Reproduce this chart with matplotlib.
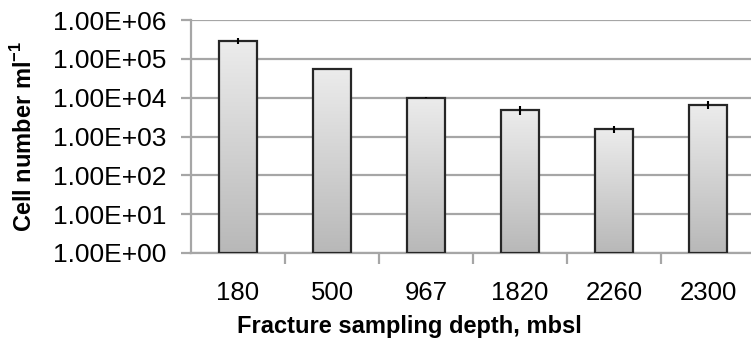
import numpy as np
import matplotlib.pyplot as plt
from matplotlib.ticker import FixedLocator, FuncFormatter

plt.rcParams['font.family'] = ['Liberation Sans', 'DejaVu Sans']
plt.rcParams['mathtext.fontset'] = 'custom'
plt.rcParams['mathtext.rm'] = 'Liberation Sans'
plt.rcParams['mathtext.bf'] = 'Liberation Sans:bold'

# depth of each fracture (mbsl) and cell counts per ml
depths = ['180', '500', '967', '1820', '2260', '2300']
cells = [2.9e5, 5.6e4, 1.0e4, 4.8e3, 1.55e3, 6.6e3]
cells_err = [5.5e4, 0, 3e2, 1.2e3, 3.5e2, 1.6e3]

GRID = '#a6a6a6'

fig = plt.figure(figsize=(7.51, 3.43), dpi=100)
ax = fig.add_axes([191 / 751, 90 / 343, 564 / 751, 233 / 343])

x = np.arange(len(depths))
bars = ax.bar(x, cells, width=0.4, bottom=1, facecolor='none',
              edgecolor='#262626', linewidth=1.6, zorder=3)
ax.errorbar(x, cells, yerr=cells_err, fmt='none', ecolor='black',
            elinewidth=1.5, capsize=0, zorder=4)

ax.set_yscale('log')
ax.set_ylim(1, 1e6)
ax.set_xlim(-0.5, len(depths) - 0.5)

ax.yaxis.set_major_locator(FixedLocator([10.0 ** k for k in range(7)]))
ax.yaxis.set_minor_locator(FixedLocator([]))
ax.yaxis.set_major_formatter(FuncFormatter(lambda v, p: '%.2E' % v))
ax.grid(axis='y', color=GRID, linewidth=1.6, zorder=0)
ax.set_axisbelow(True)

# labels under the bars, tick marks between the categories
ax.set_xticks(x)
ax.set_xticklabels(depths)
ax.set_xticks(np.arange(len(depths)) + 0.5, minor=True)
ax.tick_params(axis='x', which='major', length=0, pad=20, labelsize=18.5)
ax.tick_params(axis='x', which='minor', length=8, width=1.6, color=GRID)
ax.tick_params(axis='y', length=7, width=1.6, color=GRID, pad=11, labelsize=19)

for side in ['top', 'right']:
    ax.spines[side].set_visible(False)
for side in ['left', 'bottom']:
    ax.spines[side].set_color(GRID)
    ax.spines[side].set_linewidth(1.6)

ax.set_xlabel('Fracture sampling depth, mbsl', fontsize=17, fontweight='bold')
ax.xaxis.set_label_coords((409 - 191) / 564, -0.265)
ax.xaxis.label.set_va('top')
ax.set_ylabel(r'Cell number ml$^{\mathbf{-1}}$', fontsize=17, fontweight='bold')
ax.yaxis.set_label_coords(-0.273, 0.5)

# vertical grey gradient inside each bar
fig.canvas.draw()
grad = np.linspace(0, 1, 256).reshape(-1, 1)
top_c = np.array([236, 236, 236]) / 255
bot_c = np.array([184, 184, 184]) / 255
img = top_c * (1 - grad[..., None]) + bot_c * grad[..., None]
to_axes = ax.transAxes.inverted()
for b in bars:
    bb = b.get_window_extent()
    (x0, y0), (x1, y1) = to_axes.transform([[bb.x0, bb.y0], [bb.x1, bb.y1]])
    ax.imshow(img, extent=(x0, x1, y0, y1), transform=ax.transAxes,
              aspect='auto', zorder=2, interpolation='bilinear')
ax.set_xlim(-0.5, len(depths) - 0.5)
ax.set_ylim(1, 1e6)

fig.savefig('out.png', dpi=100)
